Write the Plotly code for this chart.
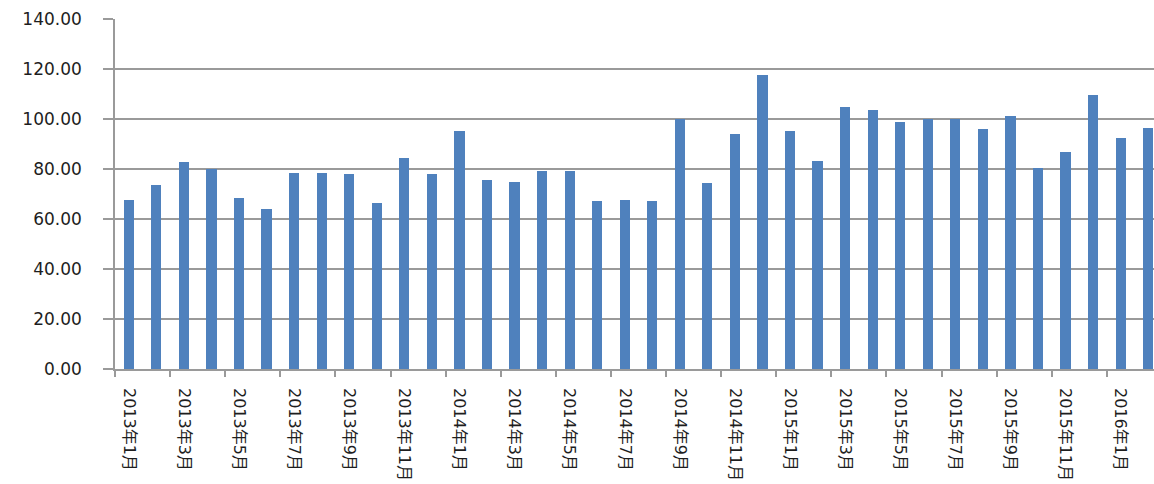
import plotly.graph_objects as go

months = [
    "2013年1月", "2013年2月", "2013年3月", "2013年4月", "2013年5月", "2013年6月",
    "2013年7月", "2013年8月", "2013年9月", "2013年10月", "2013年11月", "2013年12月",
    "2014年1月", "2014年2月", "2014年3月", "2014年4月", "2014年5月", "2014年6月",
    "2014年7月", "2014年8月", "2014年9月", "2014年10月", "2014年11月", "2014年12月",
    "2015年1月", "2015年2月", "2015年3月", "2015年4月", "2015年5月", "2015年6月",
    "2015年7月", "2015年8月", "2015年9月", "2015年10月", "2015年11月", "2015年12月",
    "2016年1月", "2016年2月",
]
values = [
    67.8, 73.8, 82.8, 80.1, 68.5, 64.2, 78.6, 78.6, 78.1, 66.6, 84.6, 78.0,
    95.4, 75.6, 74.9, 79.2, 79.2, 67.2, 67.8, 67.2, 100.1, 74.4, 94.2, 117.6,
    95.4, 83.4, 104.9, 103.8, 99.0, 100.1, 100.1, 96.0, 101.4, 80.4, 87.0, 109.8,
    92.4, 96.6,
]
y_ticks = [0, 20, 40, 60, 80, 100, 120, 140]

idx = list(range(len(months)))
label_idx = idx[::2]
label_text = months[::2]
boundary_ticks = [i - 0.5 for i in label_idx]

font_family = "DejaVu Sans, Noto Sans CJK SC, sans-serif"
text_color = "#1e1e1e"
grid_color = "#9a9a9a"

fig = go.Figure(
    go.Bar(
        x=idx,
        y=values,
        width=0.37,
        marker=dict(color="#4F81BD", line=dict(width=0)),
        hovertext=months,
    )
)

fig.update_layout(
    width=1154,
    height=484,
    margin=dict(l=115, r=0, t=19, b=115, autoexpand=False),
    paper_bgcolor="white",
    plot_bgcolor="white",
    showlegend=False,
    bargap=0,
    font=dict(family=font_family, size=17, color=text_color),
)

fig.update_xaxes(
    automargin=False,
    range=[-0.5, 37.21],
    tickmode="array",
    tickvals=label_idx,
    ticktext=label_text,
    tickangle=90,
    ticks="",
    ticklabelstandoff=14,
    showgrid=False,
    showline=True,
    linecolor=grid_color,
    linewidth=1.5,
    zeroline=False,
    minor=dict(
        tickmode="array",
        tickvals=boundary_ticks,
        ticks="outside",
        ticklen=6,
        tickwidth=1.5,
        tickcolor=grid_color,
        showgrid=False,
    ),
    tickfont=dict(family=font_family, size=16, color=text_color),
)

fig.update_yaxes(
    automargin=False,
    range=[0, 140],
    tickmode="array",
    tickvals=y_ticks,
    tickformat=".2f",
    ticks="outside",
    ticklen=10,
    tickwidth=1.5,
    tickcolor=grid_color,
    ticklabelstandoff=18,
    showgrid=True,
    gridcolor=grid_color,
    gridwidth=1.5,
    showline=True,
    linecolor=grid_color,
    linewidth=1.5,
    zeroline=False,
    tickfont=dict(family=font_family, size=17, color=text_color),
)

fig.write_html("out.html")
